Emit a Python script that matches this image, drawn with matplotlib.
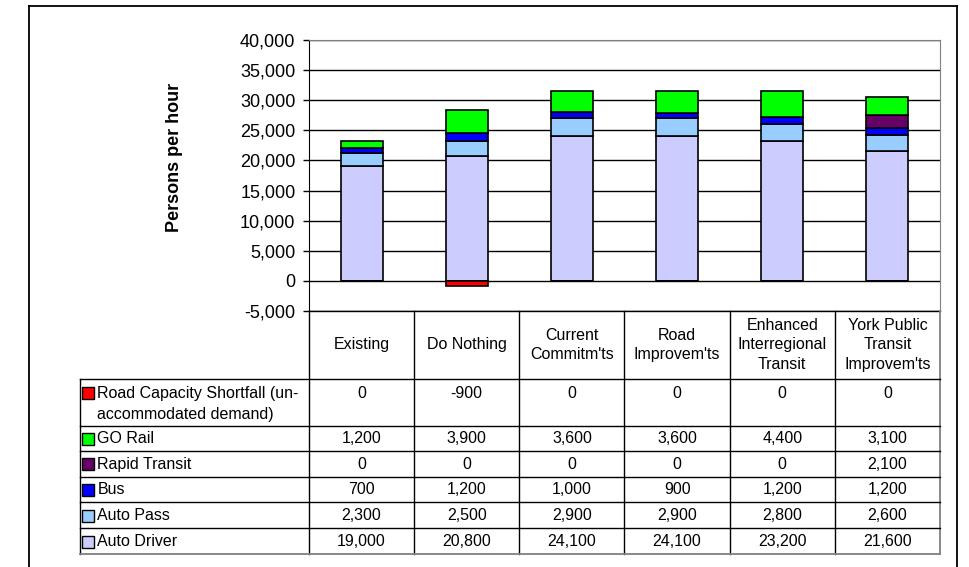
import numpy as np
import matplotlib.pyplot as plt
from matplotlib.lines import Line2D
from matplotlib.ticker import FuncFormatter

plt.rcParams['font.family'] = ['Liberation Sans', 'DejaVu Sans']

scenarios = ['Existing', 'Do Nothing', "Current\nCommitm'ts", "Road\nImprovem'ts",
             'Enhanced\nInterregional\nTransit', "York Public\nTransit\nImprovem'ts"]

# series, listed bottom-up in the stack
auto_driver = [19000, 20800, 24100, 24100, 23200, 21600]
auto_pass = [2300, 2500, 2900, 2900, 2800, 2600]
bus = [700, 1200, 1000, 900, 1200, 1200]
rapid_transit = [0, 0, 0, 0, 0, 2100]
go_rail = [1200, 3900, 3600, 3600, 4400, 3100]
shortfall = [0, -900, 0, 0, 0, 0]

stack_names = ['Auto Driver', 'Auto Pass', 'Bus', 'Rapid Transit', 'GO Rail']
stack_vals = [auto_driver, auto_pass, bus, rapid_transit, go_rail]
stack_cols = ['#CCCCFF', '#99CCFF', '#0000FF', '#660066', '#00FF00']
short_name = 'Road Capacity Shortfall (un-\naccommodated demand)'
short_col = '#FF0000'

W, H = 970, 567
fig = plt.figure(figsize=(W / 100, H / 100), dpi=100)

def px_axes(x0, y0, x1, y1):
    return fig.add_axes([x0 / W, 1 - y1 / H, (x1 - x0) / W, (y1 - y0) / H])

# outer chart border (runs off the bottom)
for xs, ys in [([29.5, 29.5], [0, 5.5]), ([29.5, 957], [5.5, 5.5]), ([957, 957], [5.5, 0])]:
    fig.add_artist(Line2D([x / W for x in xs], [1 - y / H if y else 0 for y in ys],
                          color='black', lw=1.3))

# ---- stacked bars ----
ax = px_axes(309, 40, 940, 311)
n = len(scenarios)
x = np.arange(n) + 0.5
bottom = np.zeros(n)
for vals, col in zip(stack_vals, stack_cols):
    v = np.array(vals, dtype=float)
    ax.bar(x, v, 0.4, bottom=bottom, color=col, edgecolor='black', lw=1.2, zorder=3)
    bottom += v
ax.bar(x, shortfall, 0.4, color=short_col, edgecolor='black', lw=1.2, zorder=3)

ax.set_xlim(0, n)
ax.set_ylim(-5000, 40000)
ax.set_yticks(np.arange(-5000, 40001, 5000))
ax.yaxis.set_major_formatter(FuncFormatter(lambda v, p: f'{int(v):,}'))
ax.set_xticks([])
ax.grid(axis='y', color='black', lw=1, zorder=0)
ax.tick_params(axis='y', direction='out', length=4.3, width=1, pad=5.5, labelsize=13)
ax.spines['top'].set_color('#808080')
ax.spines['right'].set_color('#808080')
ax.spines['bottom'].set_linewidth(1)
ax.set_ylabel('Persons per hour', fontsize=13, fontweight='bold')
ax.yaxis.set_label_coords(-0.199, 0.566)

# ---- data table ----
colw = (940 - 309) / n
left = -(309 - 80) / colw
row_names = [short_name] + stack_names[::-1]
row_vals = [shortfall] + [v for v in stack_vals[::-1]]
row_cols = [short_col] + stack_cols[::-1]
header_h = 68
row_h = [47, 25.3, 25.6, 25.3, 26.5, 25.6]

tab = px_axes(80, 311, 940, 554)
tab.set_xlim(left, n)
top_y = 311
bot_y = top_y + header_h + sum(row_h)
tab.set_ylim(bot_y, top_y)
tab.axis('off')

# header
for i, name in enumerate(scenarios):
    tab.text(i + 0.5, top_y + header_h / 2, name, ha='center', va='center',
             fontsize=11.5, linespacing=1.4)
for i in range(n):
    tab.plot([i, i], [top_y, bot_y], color='black', lw=1, clip_on=False)
tab.plot([n, n], [top_y, bot_y], color='#808080', lw=1.3, clip_on=False)

y = top_y + header_h
for r, (name, vals, col, h) in enumerate(zip(row_names, row_vals, row_cols, row_h)):
    tab.plot([left, n], [y, y], color='black', lw=1, clip_on=False)
    if r == 0:
        ty, va = y + 7.5, 'top'
        my = y + 14.5
    else:
        ty, va = y + h / 2 + 0.5, 'center'
        my = ty
    tab.plot(left + 8.5 / colw, my, marker='s', ms=8, mfc=col, mec='black', mew=1,
             clip_on=False)
    tab.text(left + 17.5 / colw, ty, name, ha='left', va=va, fontsize=11.5,
             linespacing=1.45)
    for i, v in enumerate(vals):
        tab.text(i + 0.5, ty, f'{v:,}', ha='center', va=va, fontsize=11.5)
    y += h
tab.plot([left, left], [top_y + header_h, bot_y], color='black', lw=1, clip_on=False)
tab.plot([left, n], [bot_y, bot_y], color='#808080', lw=1.3, clip_on=False)

fig.savefig('out.png', dpi=100)
